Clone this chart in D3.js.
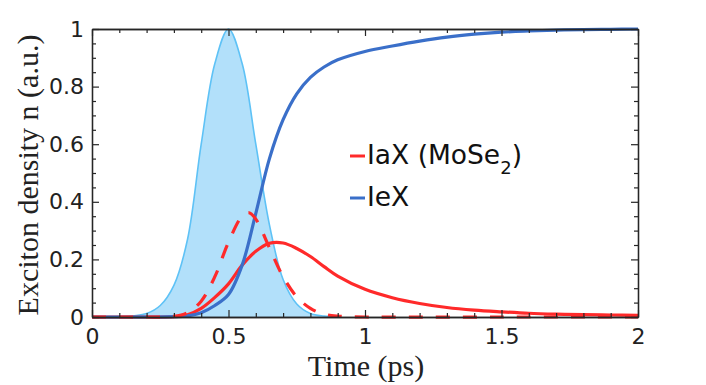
<!DOCTYPE html>
<html lang="en">
<head>
    <meta charset="UTF-8">
    <title>Exciton density vs time</title>
    <style>
        body {
            margin: 0;
            background-color: #ffffff;
        }
        .tick text {
            font-family: "DejaVu Sans", sans-serif;
            font-size: 22px;
            fill: #222;
        }
        .axis-title {
            font-family: "Liberation Serif", serif;
            font-size: 30px;
            fill: #222;
        }
        .legend text {
            font-family: "DejaVu Sans", sans-serif;
            font-size: 26.5px;
            fill: #111;
        }
    </style>
</head>
<body>
    <svg id="chart"></svg>

    <script src="https://d3js.org/d3.v7.min.js"></script>
    <script>
        // Values
        // Pump pulse (shaded Gaussian)
        const pulseTime  = [0.1, 0.15, 0.2, 0.25, 0.3, 0.35, 0.4, 0.45, 0.5, 0.55, 0.6, 0.65, 0.7, 0.75, 0.8, 0.85, 0.9];
        const pulseValue = [0, 0.004, 0.012, 0.04, 0.11, 0.27, 0.6, 0.88, 1.0, 0.88, 0.6, 0.32, 0.13, 0.045, 0.012, 0.003, 0];

        // IeX (blue, interlayer exciton)
        const iexTime  = [0, 0.1, 0.2, 0.3, 0.35, 0.4, 0.45, 0.5, 0.55, 0.6, 0.65, 0.7, 0.75, 0.8, 0.85, 0.9, 1.0, 1.1, 1.2, 1.3, 1.4, 1.5, 1.6, 1.7, 1.8, 1.9, 2.0];
        const iexValue = [0, 0, 0, 0.001, 0.004, 0.015, 0.04, 0.078, 0.18, 0.36, 0.55, 0.685, 0.775, 0.832, 0.868, 0.893, 0.922, 0.941, 0.958, 0.972, 0.982, 0.989, 0.993, 0.996, 0.998, 0.999, 1.0];

        // IaX (MoSe2) solid red
        const iaxTime  = [0, 0.1, 0.2, 0.3, 0.35, 0.4, 0.45, 0.5, 0.55, 0.6, 0.65, 0.7, 0.75, 0.8, 0.85, 0.9, 1.0, 1.1, 1.2, 1.3, 1.4, 1.5, 1.6, 1.7, 1.8, 1.9, 2.0];
        const iaxValue = [0, 0, 0, 0.001, 0.008, 0.03, 0.068, 0.115, 0.18, 0.228, 0.256, 0.257, 0.238, 0.21, 0.175, 0.142, 0.096, 0.067, 0.047, 0.033, 0.024, 0.018, 0.013, 0.01, 0.008, 0.007, 0.006];

        // IaX dashed red
        const iaxDashTime  = [0, 0.1, 0.2, 0.3, 0.35, 0.4, 0.45, 0.5, 0.55, 0.575, 0.6, 0.65, 0.7, 0.75, 0.8, 0.85, 0.9, 1.0, 1.5, 2.0];
        const iaxDashValue = [0, 0, 0, 0.002, 0.015, 0.055, 0.14, 0.26, 0.35, 0.362, 0.34, 0.24, 0.14, 0.07, 0.03, 0.01, 0.003, 0, 0, 0];

        const xTicks = [0, 0.5, 1, 1.5, 2];
        const xTickLabels = ['0', '0.5', '1', '1.5', '2'];
        const xMinor = [0.1, 0.2, 0.3, 0.4, 0.6, 0.7, 0.8, 0.9, 1.1, 1.2, 1.3, 1.4, 1.6, 1.7, 1.8, 1.9];
        const yTicks = [0, 0.2, 0.4, 0.6, 0.8, 1];
        const yTickLabels = ['0', '0.2', '0.4', '0.6', '0.8', '1'];
        const yMinor = [0.05, 0.1, 0.15, 0.25, 0.3, 0.35, 0.45, 0.5, 0.55, 0.65, 0.7, 0.75, 0.85, 0.9, 0.95];

        const width = 706;
        const height = 385;
        const margin = { top: 29, right: 68, bottom: 68, left: 92 };
        const innerW = width - margin.left - margin.right;
        const innerH = height - margin.top - margin.bottom;

        const svg = d3.select('#chart')
            .attr('width', width)
            .attr('height', height);

        const g = svg.append('g')
            .attr('transform', `translate(${margin.left},${margin.top})`);

        const x = d3.scaleLinear().domain([0, 2]).range([0, innerW]);
        const y = d3.scaleLinear().domain([0, 1]).range([innerH, 0]);

        const zip = (ts, vs) => ts.map((t, i) => ({ t, v: vs[i] }));
        const curve = d3.curveCatmullRom.alpha(0.5);

        // pulse
        const pulse = zip(pulseTime, pulseValue);
        g.append('path')
            .datum(pulse)
            .attr('fill', '#b2e0fa')
            .attr('d', d3.area()
                .x(d => x(d.t))
                .y0(y(0))
                .y1(d => y(d.v))
                .curve(curve));
        g.append('path')
            .datum(pulse)
            .attr('fill', 'none')
            .attr('stroke', '#5ec2f6')
            .attr('stroke-width', 1.6)
            .attr('d', d3.line()
                .x(d => x(d.t))
                .y(d => y(d.v))
                .curve(curve));

        const line = d3.line()
            .x(d => x(d.t))
            .y(d => Math.min(y(d.v), innerH))
            .curve(curve);

        g.append('path')
            .datum(zip(iaxTime, iaxValue))
            .attr('fill', 'none')
            .attr('stroke', '#ff2a2a')
            .attr('stroke-width', 3.2)
            .attr('d', line);

        g.append('path')
            .datum(zip(iexTime, iexValue))
            .attr('fill', 'none')
            .attr('stroke', '#3a6fc9')
            .attr('stroke-width', 3.2)
            .attr('d', line);

        g.append('path')
            .datum(zip(iaxDashTime, iaxDashValue))
            .attr('fill', 'none')
            .attr('stroke', '#ff2a2a')
            .attr('stroke-width', 3.2)
            .attr('stroke-dasharray', '14,13')
            .attr('d', line);

        // axes: ticks pointing inward, box on all four sides
        const axisColor = '#262626';
        function styleAxis(sel) {
            sel.select('.domain').attr('stroke', axisColor).attr('stroke-width', 1.3);
            sel.selectAll('.tick line').attr('stroke', axisColor).attr('stroke-width', 1.2);
        }

        g.append('g')
            .attr('transform', `translate(0,${innerH})`)
            .call(d3.axisBottom(x).tickValues(xTicks)
                .tickFormat((d, i) => xTickLabels[i])
                .tickSizeInner(-7).tickSizeOuter(0).tickPadding(11))
            .call(styleAxis);
        g.append('g')
            .attr('transform', `translate(0,${innerH})`)
            .call(d3.axisBottom(x).tickValues(xMinor).tickFormat('')
                .tickSizeInner(-4).tickSizeOuter(0))
            .call(styleAxis);
        g.append('g')
            .call(d3.axisTop(x).tickValues(xTicks).tickFormat('')
                .tickSizeInner(-7).tickSizeOuter(0))
            .call(styleAxis);
        g.append('g')
            .call(d3.axisTop(x).tickValues(xMinor).tickFormat('')
                .tickSizeInner(-4).tickSizeOuter(0))
            .call(styleAxis);

        g.append('g')
            .call(d3.axisLeft(y).tickValues(yTicks)
                .tickFormat((d, i) => yTickLabels[i])
                .tickSizeInner(-7).tickSizeOuter(0).tickPadding(8))
            .call(styleAxis);
        g.append('g')
            .call(d3.axisLeft(y).tickValues(yMinor).tickFormat('')
                .tickSizeInner(-4).tickSizeOuter(0))
            .call(styleAxis);
        g.append('g')
            .attr('transform', `translate(${innerW},0)`)
            .call(d3.axisRight(y).tickValues(yTicks).tickFormat('')
                .tickSizeInner(-7).tickSizeOuter(0))
            .call(styleAxis);
        g.append('g')
            .attr('transform', `translate(${innerW},0)`)
            .call(d3.axisRight(y).tickValues(yMinor).tickFormat('')
                .tickSizeInner(-4).tickSizeOuter(0))
            .call(styleAxis);

        // axis titles
        svg.append('text')
            .attr('class', 'axis-title')
            .attr('x', 366)
            .attr('y', 376)
            .attr('text-anchor', 'middle')
            .text('Time (ps)');

        svg.append('text')
            .attr('class', 'axis-title')
            .attr('transform', `translate(38,${margin.top + innerH / 2 + 2}) rotate(-90)`)
            .attr('text-anchor', 'middle')
            .text('Exciton density n (a.u.)');

        // legend
        const legendItems = [
            { color: '#ff2a2a', y: 156 },
            { color: '#3a6fc9', y: 198 }
        ];
        const legend = svg.append('g').attr('class', 'legend');
        legend.selectAll('line')
            .data(legendItems)
            .join('line')
            .attr('x1', 350).attr('x2', 365)
            .attr('y1', d => d.y).attr('y2', d => d.y)
            .attr('stroke', d => d.color)
            .attr('stroke-width', 3);

        const t1 = legend.append('text').attr('x', 367).attr('y', 164);
        t1.append('tspan').text('IaX (MoSe');
        t1.append('tspan').attr('dy', 10).style('font-size', '18px').text('2');
        t1.append('tspan').attr('dy', -10).text(')');

        legend.append('text').attr('x', 367).attr('y', 206).text('IeX');
    </script>
</body>
</html>
